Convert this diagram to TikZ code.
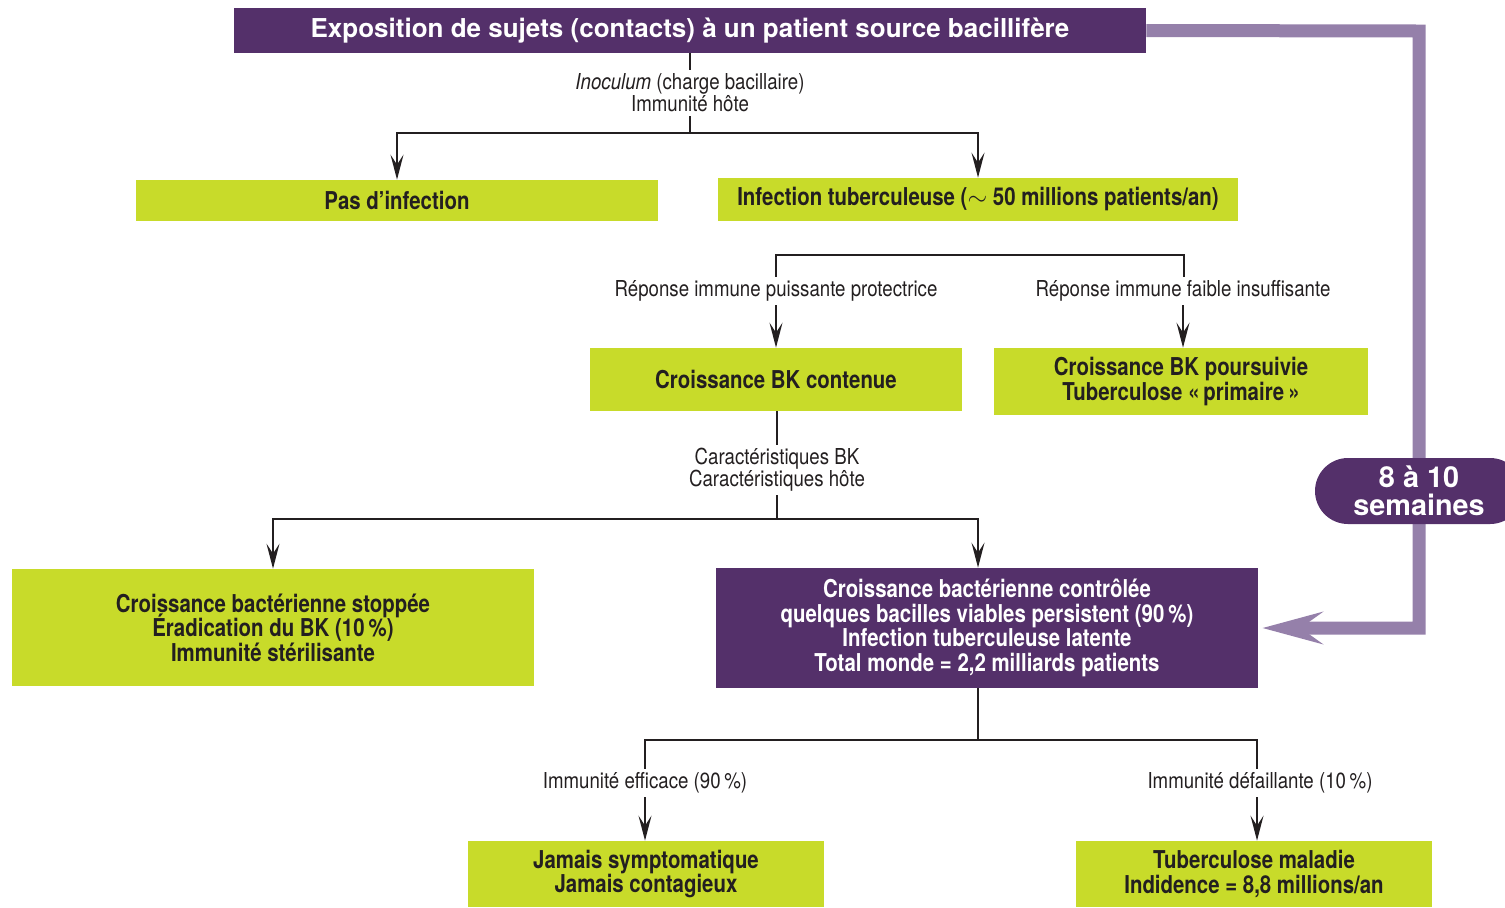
\documentclass[tikz,border=0pt]{standalone}
\usepackage{fontspec}
\setmainfont{TeX Gyre Heros}
\newfontfamily\condfont[FakeStretch=0.83]{TeX Gyre Heros}
\newfontfamily\lblfont[FakeStretch=0.85]{TeX Gyre Heros}
\usepackage{tikz}
\usetikzlibrary{arrows.meta}
\definecolor{tbpurple}{HTML}{54306A}
\definecolor{tbgreen}{HTML}{C8DB2A}
\definecolor{tblilac}{HTML}{9580AA}
\definecolor{tbtext}{HTML}{231F20}
\newcommand\tightlines{\setlength{\lineskiplimit}{-20pt}\setlength{\lineskip}{0pt}}
\tikzset{
  greenbox/.style={fill=tbgreen, text=tbtext, align=center, inner sep=0pt,
    execute at begin node=\tightlines,
    font=\condfont\bfseries\fontsize{14}{13.9}\selectfont},
  purplebox/.style={fill=tbpurple, text=white, align=center, inner sep=0pt,
    execute at begin node=\tightlines,
    font=\condfont\bfseries\fontsize{14}{13.9}\selectfont},
  lbl/.style={align=center, inner sep=2pt, text=tbtext,
    font=\lblfont\fontsize{12.5}{12.5}\selectfont},
  link/.style={line width=1.1pt, draw=tbtext},
  arr/.style={link, -{Stealth[length=5mm,width=2.6mm,inset=2mm]}},
  fbline/.style={line width=2.6mm, draw=tblilac,
    -{Stealth[length=12mm,width=6.4mm,inset=4.4mm]}}
}
\begin{document}
\begin{tikzpicture}[x=0.2mm, y=-0.2mm]
\useasboundingbox (0,0) rectangle (1505,907);
%%%%% Boxes %%%%%
\node[purplebox, minimum width=18.24cm, minimum height=0.9cm,
  font=\bfseries\fontsize{14.8}{15}\selectfont] (expo) at (690,30.5)
  {Exposition de sujets (contacts) à un patient source bacillifère};
\node[greenbox, minimum width=10.44cm, minimum height=0.82cm] (pasinf) at (397,200.5)
  {Pas d’infection};
\node[greenbox, minimum width=10.4cm, minimum height=0.86cm] (inftb) at (978,199.5)
  {Infection tuberculeuse ($\sim$ 50 millions patients/an)};
\node[greenbox, minimum width=7.44cm, minimum height=1.26cm] (contenue) at (776,379.5)
  {Croissance BK contenue};
\node[greenbox, minimum width=7.48cm, minimum height=1.34cm] (poursuivie) at (1181,381.5)
  {Croissance BK poursuivie\\Tuberculose «\,primaire\,»};
\node[greenbox, minimum width=10.44cm, minimum height=2.34cm] (stoppee) at (273,627.5)
  {Croissance bactérienne stoppée\\Éradication du BK (10\,\%)\\Immunité stérilisante};
\node[purplebox, minimum width=10.84cm, minimum height=2.4cm] (latente) at (987,628)
  {Croissance bactérienne contrôlée\\quelques bacilles viables persistent (90\,\%)\\
   Infection tuberculeuse latente\\Total monde = 2,2 milliards patients};
\node[greenbox, minimum width=7.12cm, minimum height=1.32cm] (jamais) at (646,874)
  {Jamais symptomatique\\Jamais contagieux};
\node[greenbox, minimum width=7.12cm, minimum height=1.32cm] (maladie) at (1254,874)
  {Tuberculose maladie\\Indidence = 8,8 millions/an};
%%%%% Labels %%%%%
\node[lbl] (inoc) at (690,93) {\textit{Inoculum} (charge bacillaire)\\Immunité hôte};
\node[lbl] (repfort) at (776,291) {Réponse immune puissante protectrice};
\node[lbl] (repfaible) at (1183,291) {Réponse immune faible insuffisante};
\node[lbl] (caract) at (777,470) {Caractéristiques BK\\Caractéristiques hôte};
\node[lbl] (immeff) at (645,783) {Immunité efficace (90\,\%)};
\node[lbl] (immdef) at (1260,783) {Immunité défaillante (10\,\%)};
%%%%% Junctions %%%%%
\coordinate (j1) at (690,133);
\coordinate (j2l) at (776,255);
\coordinate (j2r) at (1184,255);
\coordinate (j3) at (777,519);
\coordinate (j3r) at (978,519);
\coordinate (j4) at (978,740);
\coordinate (j4l) at (645,740);
\coordinate (j4r) at (1257,740);
\coordinate (fb1) at (1419,31);
\coordinate (fb2) at (1419,628);
%%%%% Connectors %%%%%
\draw[link] (expo.south -| inoc) -- (inoc.north);
\draw[link] (inoc.south) -- (j1);
\draw[arr] (j1) -| (pasinf.north);
\draw[arr] (j1) -| (inftb.north);
\draw[link] (repfort.north) -- (j2l) -- (j2r) -- (repfaible.north -| j2r);
\draw[arr] (repfort.south) -- (repfort.south |- contenue.north);
\draw[arr] (repfaible.south) -- (repfaible.south |- poursuivie.north);
\draw[link] (contenue.south -| caract) -- (caract.north);
\draw[link] (caract.south) -- (j3);
\draw[arr] (j3) -| (stoppee.north);
\draw[arr] (j3) -- (j3r) -- (j3r |- latente.north);
\draw[link] (latente.south -| j4) -- (j4);
\draw[link] (immeff.north) -- (j4l) -- (j4r) -- (j4r |- immdef.north);
\draw[arr] (immeff.south) -- (immeff.south |- jamais.north);
\draw[arr] (j4r |- immdef.south) -- (j4r |- maladie.north);
%%%%% Feedback %%%%%
\draw[fbline, shorten >=0.8mm] (expo.east) -- (fb1) -- (fb2) -- (latente.east);
\node[fill=tbpurple, text=white, align=center, rounded corners=0.66cm,
  minimum width=4.16cm, minimum height=1.32cm, inner sep=0pt,
  font=\bfseries\fontsize{16.4}{16}\selectfont] (semaines) at (1419,491)
  {8 à 10\\semaines};
\end{tikzpicture}
\end{document}
